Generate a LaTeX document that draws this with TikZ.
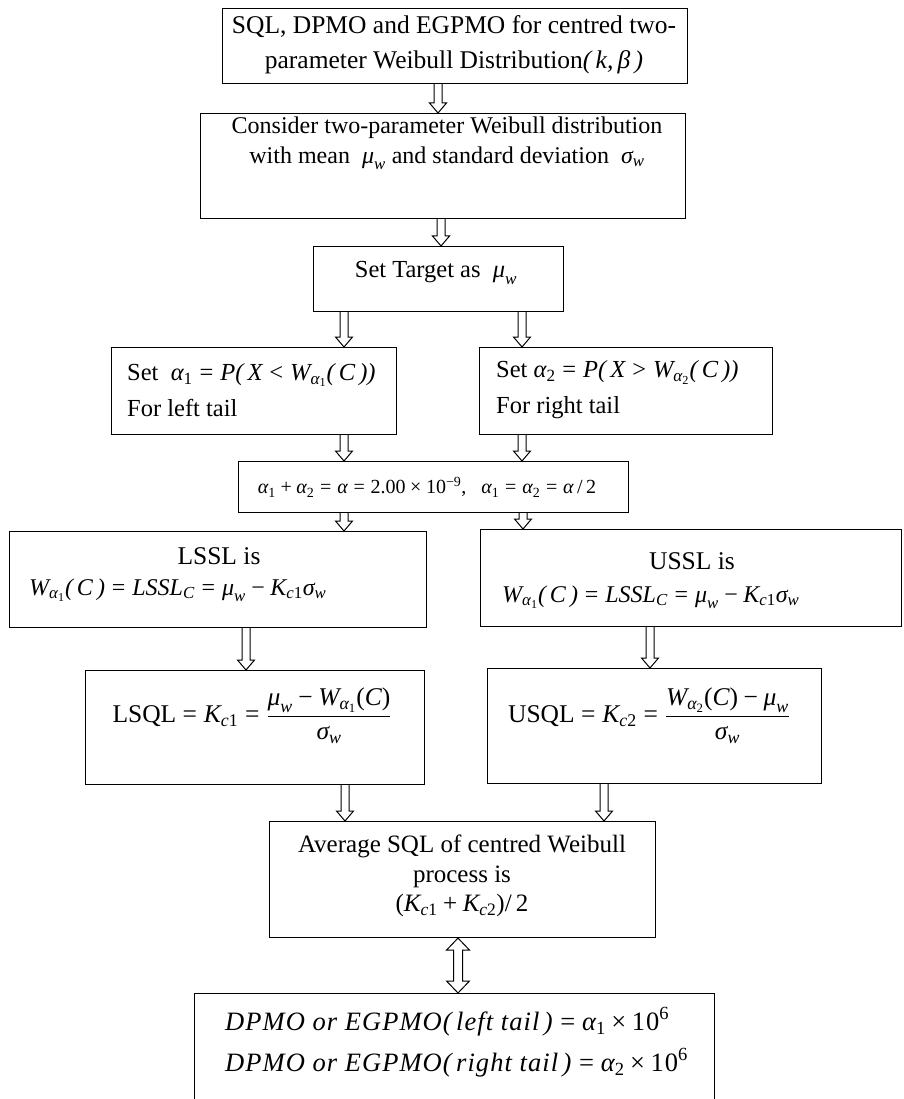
\documentclass[tikz,border=0pt]{standalone}
\usepackage{amsmath}
\usepackage{fontspec}
\setmainfont{Liberation Serif}
\usetikzlibrary{calc}
\newcommand{\I}[1]{\textit{#1}}
\newcommand{\U}[1]{\textup{#1}}
\newcommand{\EQ}{\mathrel{\textup{=}}}
\newcommand{\PL}{\mathbin{\textup{+}}}
\newcommand{\MI}{\mathbin{\textup{−}}}
\newcommand{\TI}{\mathbin{\textup{×}}}
\newcommand{\LT}{\mathrel{\textup{<}}}
\newcommand{\GT}{\mathrel{\textup{>}}}
\newcommand{\muw}{\I{μ}_{\I{w}}}
\newcommand{\sgw}{\I{σ}_{\I{w}}}
\begin{document}
\begin{tikzpicture}[x=1pt,y=-1pt,
  box/.style={draw=black, line width=1.1pt, inner sep=0pt, anchor=north west},
  txt/.style={inner sep=0pt, font=\fontsize{25.5}{30}\selectfont},
  harrow/.style={draw=black, line width=1pt, line join=miter,
    to path={let \p1=(\tikztostart), \p2=(\tikztotarget) in
      (\x1-4pt,\y1) -- (\x1-4pt,\y2+10pt) -- (\x1-8.5pt,\y2+10pt) -- (\x1,\y2)
      -- (\x1+8.5pt,\y2+10pt) -- (\x1+4pt,\y2+10pt) -- (\x1+4pt,\y1)}},
  dblarrow/.style={draw=black, line width=1pt, line join=miter,
    to path={let \p1=(\tikztostart), \p2=(\tikztotarget) in
      (\x1-4.5pt,\y1-12pt) -- (\x1-11.5pt,\y1-12pt) -- (\x1,\y1) -- (\x1+11.5pt,\y1-12pt)
      -- (\x1+4.5pt,\y1-12pt) -- (\x1+4.5pt,\y2+12pt) -- (\x1+11.5pt,\y2+12pt) -- (\x1,\y2)
      -- (\x1-11.5pt,\y2+12pt) -- (\x1-4.5pt,\y2+12pt) -- cycle}}]
\useasboundingbox (0,0) rectangle (903,1099);
\clip (0,0) rectangle (903,1099);

% boxes
\node[box, minimum width=465pt, minimum height=75pt]  (b1)  at (222,8)   {};
\node[box, minimum width=485pt, minimum height=105pt] (b2)  at (200,113) {};
\node[box, minimum width=250pt, minimum height=65pt]  (b3)  at (313,246) {};
\node[box, minimum width=285pt, minimum height=87pt]  (b4l) at (111,347) {};
\node[box, minimum width=293pt, minimum height=87pt]  (b4r) at (479,347) {};
\node[box, minimum width=390pt, minimum height=51pt]  (b5)  at (238,461) {};
\node[box, minimum width=417pt, minimum height=96pt]  (b6l) at (9,531)   {};
\node[box, minimum width=421pt, minimum height=97pt]  (b6r) at (480,529) {};
\node[box, minimum width=339pt, minimum height=114pt] (b7l) at (85,670)  {};
\node[box, minimum width=334pt, minimum height=115pt] (b7r) at (487,668) {};
\node[box, minimum width=386pt, minimum height=116pt] (b8)  at (269,821) {};
\node[box, minimum width=520pt, minimum height=130pt] (b9)  at (194,993) {};

% texts
\node[txt, align=center, font=\fontsize{25.5}{35}\selectfont] (t1) at (454,45)
  {SQL, DPMO and EGPMO for centred two-\\parameter Weibull Distribution\I{(\,k,\,β\,)}};
\node[txt, align=center, font=\fontsize{24}{30}\selectfont] (t2) at (447,143)
  {Consider two-parameter Weibull distribution\\with mean \ $\muw$ and standard deviation \ $\sgw$};
\node[txt, font=\fontsize{24.5}{30}\selectfont] (t3) at (436,273) {Set Target as \ $\muw$};
\node[txt, align=left, anchor=west, font=\fontsize{24.5}{36}\selectfont] (t4l) at (127,390)
  {Set \ $\I{α}_{\U{1}} \EQ \I{P(\,X} \LT \I{W}_{\I{α}_{\U{1}}}\I{(\,C\,))}$\\For left tail};
\node[txt, align=left, anchor=west, font=\fontsize{24.5}{36}\selectfont] (t4r) at (496,390)
  {Set $\I{α}_{\U{2}} \EQ \I{P(\,X} \GT \I{W}_{\I{α}_{\U{2}}}\I{(\,C\,))}$\\For right tail};
\node[txt, font=\fontsize{20}{26}\selectfont] (t5) at (427,487)
  {$\I{α}_{\U{1}} \PL \I{α}_{\U{2}} \EQ \I{α} \EQ \U{2.00}\TI\U{10}^{\U{−9}}$\U{,} \ \ $\I{α}_{\U{1}} \EQ \I{α}_{\U{2}} \EQ \I{α}\,\U{/}\,\U{2}$};
\node[txt] (t6l1) at (219,556) {LSSL is};
\node[txt, anchor=west, font=\fontsize{24}{30}\selectfont] (t6l2) at (29,590)
  {$\I{W}_{\I{α}_{\U{1}}}\I{(\,C\,)} \EQ \I{LSSL}_{\I{C}} \EQ \muw \MI \I{K}_{\I{c}\U{1}}\sgw$};
\node[txt] (t6r1) at (692,561) {USSL is};
\node[txt, anchor=west, font=\fontsize{24}{30}\selectfont] (t6r2) at (502,597)
  {$\I{W}_{\I{α}_{\U{1}}}\I{(\,C\,)} \EQ \I{LSSL}_{\I{C}} \EQ \muw \MI \I{K}_{\I{c}\U{1}}\sgw$};
\node[txt] (t7l) at (252,716)
  {LSQL $\EQ \I{K}_{\I{c}\U{1}} \EQ \dfrac{\muw \MI \I{W}_{\I{α}_{\U{1}}}\U{(}\I{C}\U{)}}{\sgw}$};
\node[txt] (t7r) at (649,716)
  {USQL $\EQ \I{K}_{\I{c}\U{2}} \EQ \dfrac{\I{W}_{\I{α}_{\U{2}}}\U{(}\I{C}\U{)} \MI \muw}{\sgw}$};
\node[txt, align=center, font=\fontsize{25}{29.5}\selectfont] (t8) at (462,876)
  {Average SQL of centred Weibull\\process is\\$\U{(}\I{K}_{\I{c}\U{1}} \PL \I{K}_{\I{c}\U{2}}\U{)}\U{/}\,\U{2}$};
\node[txt, align=left, anchor=west, font=\fontsize{26.5}{41}\selectfont\itshape\addfontfeature{LetterSpace=4}] (t9) at (225,1042)
  {DPMO or EGPMO(\,left tail\,) $\EQ \I{α}_{\U{1}} \TI \U{10}^{\U{6}}$\\DPMO or EGPMO(\,right tail\,) $\EQ \I{α}_{\U{2}} \TI \U{10}^{\U{6}}$};

% arrow columns
\coordinate (c1) at (438,0);
\coordinate (c2) at (441,0);
\coordinate (c3) at (344,0);
\coordinate (c4) at (522,0);
\coordinate (c5) at (523,0);
\coordinate (c6) at (246,0);
\coordinate (c7) at (650,0);
\coordinate (c8) at (345,0);
\coordinate (c9) at (604,0);
\coordinate (c10) at (458,0);

% arrows
\draw[harrow] (b1.south -| c1) to (b2.north -| c1);
\draw[harrow] (b2.south -| c2) to (b3.north -| c2);
\draw[harrow] (b3.south -| c3) to (b4l.north -| c3);
\draw[harrow] (b3.south -| c4) to (b4r.north -| c4);
\draw[harrow] (b4l.south -| c3) to (b5.north -| c3);
\draw[harrow] (b4r.south -| c4) to (b5.north -| c4);
\draw[harrow] (b5.south -| c3) to (b6l.north -| c3);
\draw[harrow] (b5.south -| c5) to (b6r.north -| c5);
\draw[harrow] (b6l.south -| c6) to (b7l.north -| c6);
\draw[harrow] (b6r.south -| c7) to (b7r.north -| c7);
\draw[harrow] (b7l.south -| c8) to (b8.north -| c8);
\draw[harrow] (b7r.south -| c9) to (b8.north -| c9);
\draw[dblarrow] (b8.south -| c10) to (b9.north -| c10);
\end{tikzpicture}
\end{document}
